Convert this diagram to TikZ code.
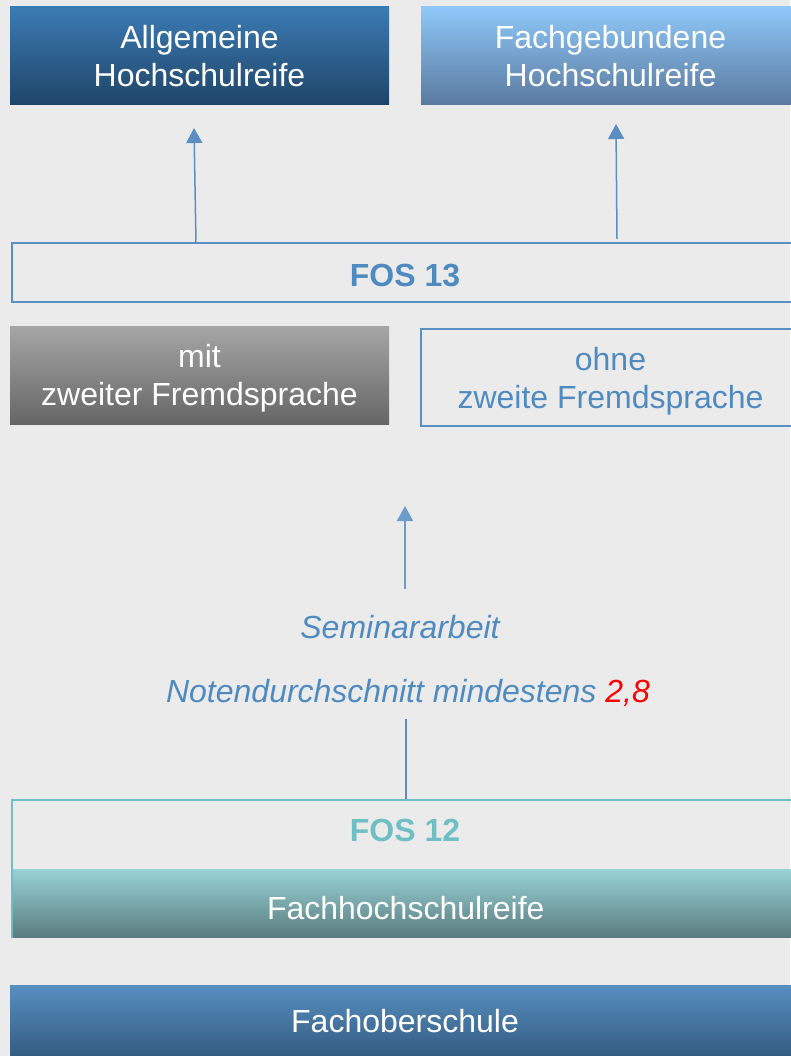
\documentclass[tikz,border=0pt]{standalone}
\usepackage{fontspec}
\setmainfont{Liberation Sans}
\usetikzlibrary{arrows.meta}

\definecolor{bg}{HTML}{EBEBEB}
\definecolor{fosblue}{HTML}{4F8BC0}
\definecolor{fosteal}{HTML}{6FBFC4}
\definecolor{lineblue}{HTML}{5B8FC4}

\begin{document}
\begin{tikzpicture}[x=1pt, y=-1pt,
    every node/.style={font=\fontsize{32}{38}\selectfont, align=center, inner sep=0pt},
    box/.style={minimum width=379pt, minimum height=98pt, text=white},
    wide/.style={minimum width=786pt},
    arr/.style={draw=lineblue, line width=1.5pt, -{Triangle[width=16pt,length=15pt]}}]
                % background
                \fill [bg] (0, 0) rectangle (790, 1056);
                \useasboundingbox (0, 0) rectangle (790, 1056);
                % Abschluesse oben
                \node [box, top color={rgb,255:red,59;green,123;blue,180}, bottom color={rgb,255:red,31;green,69;blue,104}] (allg) at (199.5, 56) {Allgemeine\\Hochschulreife};
                \node [box, top color={rgb,255:red,142;green,200;blue,250}, bottom color={rgb,255:red,90;green,122;blue,158}] (fachgeb) at (610.5, 56) {Fachgebundene\\Hochschulreife};
                % FOS 13
                \node [wide, minimum height=59pt, draw=lineblue, line width=2pt, text=fosblue, text height=29pt, font=\fontsize{32}{38}\selectfont\bfseries] (fos13) at (405, 272.5) {FOS 13};
                \coordinate (a1) at (196, 243);
                \coordinate (t1) at (194, 128);
                \coordinate (a2) at (617, 239);
                \coordinate (t2) at (616, 124);
                \draw [arr] (a1) -- (t1);
                \draw [arr] (a2) -- (t2);
                % Fremdsprache
                \node [box, text depth=0pt, top color={rgb,255:red,166;green,166;blue,166}, bottom color={rgb,255:red,102;green,102;blue,102}] (mit) at (199.5, 375) {mit\\zweiter Fremdsprache};
                \node [box, text depth=0pt, minimum height=97pt, draw=lineblue, line width=2pt, text=fosblue] (ohne) at (610.5, 377.5) {ohne\\zweite Fremdsprache};
                % Bedingungen
                \coordinate (a3) at (405, 589);
                \coordinate (t3) at (405, 506);
                \draw [arr, draw={rgb,255:red,110;green,156;blue,200}] (a3) -- (t3);
                \node [anchor=base, text=fosblue, font=\fontsize{32}{38}\selectfont\itshape] (sem) at (400, 638) {Seminararbeit};
                \node [anchor=base, text=fosblue, font=\fontsize{32}{38}\selectfont\itshape] (note) at (408, 702) {Notendurchschnitt mindestens \textcolor{red}{2,8}};
                % FOS 12
                \node [wide, minimum height=137pt, draw=fosteal, line width=1.5pt] (fos12) at (405, 868.5) {};
                \node [wide, minimum height=68pt, text=white, text height=33pt, text depth=0pt, top color={rgb,255:red,152;green,211;blue,215}, bottom color={rgb,255:red,90;green,124;blue,126}] (fhr) at (405.75, 903) {Fachhochschulreife};
                \node [text=fosteal, font=\fontsize{32}{38}\selectfont\bfseries] (fos12t) at (405, 830) {FOS 12};
                \coordinate (l1) at (406, 719);
                \draw [draw=lineblue, line width=1.5pt] (l1) -- (l1 |- fos12.north);
                % Fachoberschule
                \node [minimum width=790pt, minimum height=72pt, text=white, top color={rgb,255:red,87;green,143;blue,193}, bottom color={rgb,255:red,51;green,91;blue,128}] (fos) at (405, 1021) {Fachoberschule};
\end{tikzpicture}
\end{document}
